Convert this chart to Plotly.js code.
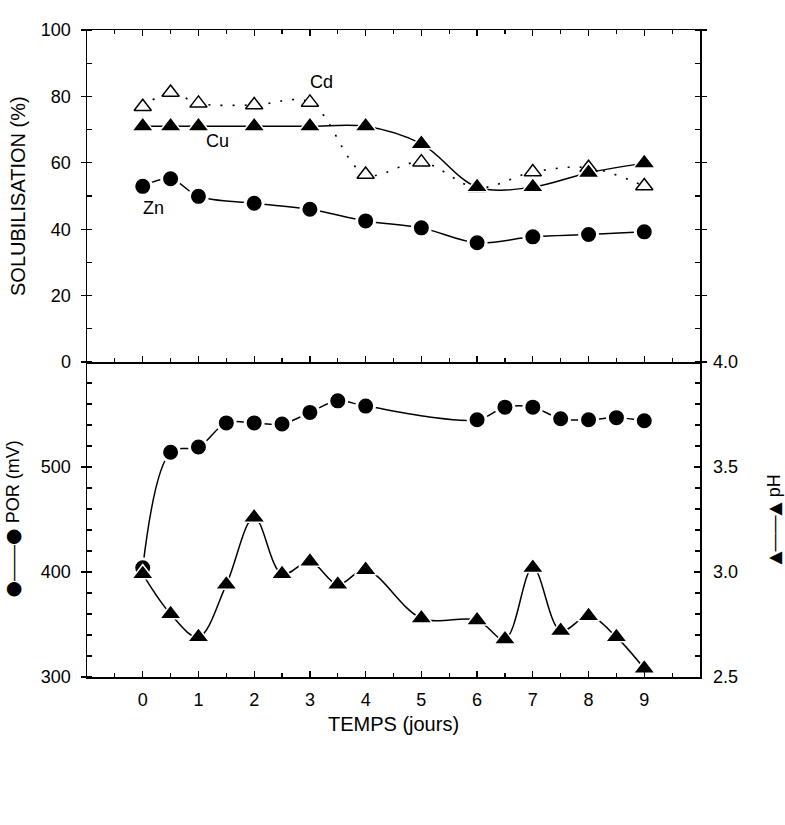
<!DOCTYPE html>
<html>
<head>
<meta charset="utf-8">
<script src="https://cdn.plot.ly/plotly-3.0.1.min.js"></script>
<style>html,body{margin:0;padding:0;background:#fff;}#chart{width:785px;height:825px;}</style>
</head>
<body>
<div id="chart"></div>
<script>
// ---- data ----
const days = [0, 0.5, 1, 2, 3, 4, 5, 6, 7, 8, 9];
const zn = [52.9, 55.2, 49.9, 47.8, 46.0, 42.5, 40.4, 35.9, 37.7, 38.4, 39.2];
const cu = [71, 71, 71, 71, 71, 71, 65.7, 52.7, 52.7, 57.0, 59.9];
const cd = [76.9, 81.2, 77.9, 77.4, 78.2, 56.5, 60.2, 52.5, 57.2, 58.5, 53.0];

const orpDays = [0, 0.5, 1, 1.5, 2, 2.5, 3, 3.5, 4, 6, 6.5, 7, 7.5, 8, 8.5, 9];
const orp = [404, 514, 519, 542, 542, 541, 552, 563, 558, 545, 557, 557, 546, 545, 547, 544];

const phDays = [0, 0.5, 1, 1.5, 2, 2.5, 3, 3.5, 4, 5, 6, 6.5, 7, 7.5, 8, 8.5, 9];
const ph = [2.99, 2.80, 2.69, 2.94, 3.26, 2.99, 3.05, 2.94, 3.01, 2.78, 2.77, 2.68, 3.02, 2.72, 2.79, 2.69, 2.54];

const xTicks = [0, 1, 2, 3, 4, 5, 6, 7, 8, 9];
const solTicks = [0, 20, 40, 60, 80, 100];
const orpTicks = [300, 400, 500];
const phTicks = [2.5, 3.0, 3.5, 4.0];
const seriesLabels = {cd: 'Cd', cu: 'Cu', zn: 'Zn'};

// ---- styling ----
const FONT = 'Liberation Sans, Arial, sans-serif';
const K = '#000';
const split = 315 / 647;

const triMarker = {symbol: 'triangle-up', size: 19, color: K, line: {color: '#fff', width: 1.5}};
const dotMarker = {symbol: 'circle', size: 18, color: K, line: {color: '#fff', width: 3}};

const traces = [
  {x: days, y: cd, xaxis: 'x', yaxis: 'y', mode: 'lines+markers', name: 'Cd',
   line: {color: K, width: 1.6, dash: '2px,10px', shape: 'spline', smoothing: 1},
   marker: {symbol: 'triangle-up', size: 15, color: '#fff', line: {color: K, width: 1.5}}},
  {x: days, y: cu, xaxis: 'x', yaxis: 'y', mode: 'lines+markers', name: 'Cu',
   line: {color: K, width: 1.5, shape: 'spline', smoothing: 1}, marker: triMarker},
  {x: days, y: zn, xaxis: 'x', yaxis: 'y', mode: 'lines+markers', name: 'Zn',
   line: {color: K, width: 1.5, shape: 'spline', smoothing: 1}, marker: dotMarker},
  {x: phDays, y: ph, xaxis: 'x2', yaxis: 'y3', mode: 'lines+markers', name: 'pH',
   line: {color: K, width: 1.5, shape: 'spline', smoothing: 1}, marker: triMarker},
  {x: orpDays, y: orp, xaxis: 'x2', yaxis: 'y2', mode: 'lines+markers', name: 'POR',
   line: {color: K, width: 1.5, shape: 'spline', smoothing: 1}, marker: dotMarker}
];

const tickFont = {family: FONT, size: 18, color: K};
const baseAxis = {
  showgrid: false, zeroline: false, showline: true, linecolor: K, linewidth: 1.5,
  tickcolor: K, tickwidth: 1.3, tickfont: tickFont, fixedrange: true
};

const layout = {
  width: 785, height: 825,
  margin: {l: 87, r: 85, t: 30, b: 148},
  paper_bgcolor: '#fff', plot_bgcolor: '#fff',
  showlegend: false,
  font: {family: FONT, size: 18, color: K},
  xaxis: Object.assign({}, baseAxis, {
    domain: [0, 1], anchor: 'y', range: [-1, 10], tickvals: xTicks,
    showticklabels: false, ticks: 'inside', ticklen: 6, mirror: 'ticks',
    minor: {dtick: 0.5, tick0: 0, ticks: 'inside', ticklen: 4, tickcolor: K, tickwidth: 1.2}
  }),
  yaxis: Object.assign({}, baseAxis, {
    domain: [split, 1], anchor: 'x', range: [0, 100], tickvals: solTicks,
    ticks: 'outside', ticklen: 5, mirror: 'ticks', ticklabelstandoff: 6,
    minor: {dtick: 10, tick0: 0, ticks: 'inside', ticklen: 5, tickcolor: K, tickwidth: 1.2}
  }),
  xaxis2: Object.assign({}, baseAxis, {
    domain: [0, 1], anchor: 'y2', range: [-1, 10], tickvals: xTicks,
    ticks: 'inside', ticklen: 6, ticklabelstandoff: 6,
    minor: {dtick: 0.5, tick0: 0, ticks: 'inside', ticklen: 4, tickcolor: K, tickwidth: 1.2},
    title: {text: 'TEMPS (jours)', font: {family: FONT, size: 20, color: K}, standoff: 8}
  }),
  yaxis2: Object.assign({}, baseAxis, {
    domain: [0, split], anchor: 'x2', range: [300, 600], tickvals: orpTicks,
    ticks: 'outside', ticklen: 5, ticklabelstandoff: 6,
    minor: {dtick: 20, tick0: 300, ticks: 'inside', ticklen: 5, tickcolor: K, tickwidth: 1.2}
  }),
  yaxis3: Object.assign({}, baseAxis, {
    overlaying: 'y2', side: 'right', anchor: 'x2', range: [2.5, 4.0], tickvals: phTicks,
    tickformat: '.1f', ticks: 'inside', ticklen: 6, ticklabelstandoff: 8,
    minor: {dtick: 0.1, tick0: 2.5, ticks: 'inside', ticklen: 5, tickcolor: K, tickwidth: 1.2}
  }),
  annotations: [
    {xref: 'x', yref: 'y', x: 3.2, y: 84.4, text: seriesLabels.cd, showarrow: false,
     font: {family: FONT, size: 18, color: K}},
    {xref: 'x', yref: 'y', x: 1.35, y: 66.5, text: seriesLabels.cu, showarrow: false,
     font: {family: FONT, size: 18, color: K}},
    {xref: 'x', yref: 'y', x: 0.19, y: 46.4, text: seriesLabels.zn, showarrow: false,
     font: {family: FONT, size: 18, color: K}},
    {xref: 'paper', yref: 'paper', x: (18 - 87) / 613, y: (split + 1) / 2, textangle: -90,
     text: 'SOLUBILISATION (%)', showarrow: false, xanchor: 'center', yanchor: 'middle',
     font: {family: FONT, size: 20, color: K}},
    {xref: 'paper', yref: 'paper', x: (11 - 87) / 613, y: split / 2, textangle: -90,
     text: '<span style="font-family:DejaVu Sans;font-size:19px">●</span>——<span style="font-family:DejaVu Sans;font-size:19px">●</span> POR (mV)',
     showarrow: false, xanchor: 'center', yanchor: 'middle',
     font: {family: FONT, size: 18, color: K}},
    {xref: 'paper', yref: 'paper', x: (773 - 87) / 613, y: split / 2, textangle: -90,
     text: '<span style="font-family:DejaVu Sans;font-size:17px">▲</span>——<span style="font-family:DejaVu Sans;font-size:17px">▲</span> pH',
     showarrow: false, xanchor: 'center', yanchor: 'middle',
     font: {family: FONT, size: 18, color: K}}
  ]
};

Plotly.newPlot('chart', traces, layout, {staticPlot: true, displayModeBar: false});
</script>
</body>
</html>
